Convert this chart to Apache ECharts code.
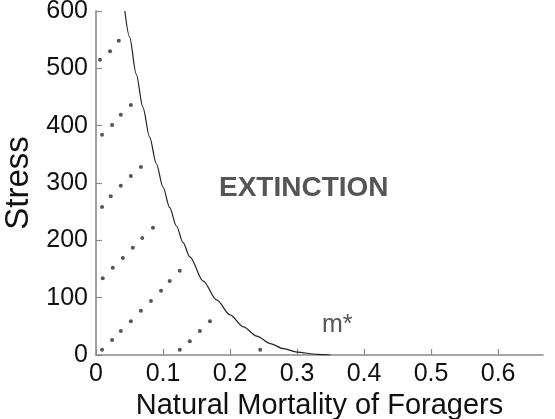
<!DOCTYPE html>
<html>
<head>
<meta charset="utf-8">
<script src="https://cdn.jsdelivr.net/npm/echarts@6/dist/echarts.min.js"></script>
<style>html,body{margin:0;padding:0;background:#fff;}#c{width:555px;height:419px;}</style>
</head>
<body>
<div id="c"></div>
<script>
// Tick labels
var xTicks = [0, 0.1, 0.2, 0.3, 0.4, 0.5, 0.6];
var yTicks = [0, 100, 200, 300, 400, 500, 600];

// Boundary curve (extinction threshold)
var curveX = [0.043, 0.05, 0.06, 0.07, 0.08, 0.09, 0.10, 0.11, 0.12, 0.13, 0.14, 0.16, 0.18, 0.20, 0.22, 0.24, 0.26, 0.28, 0.30, 0.33, 0.35];
var curveY = [600, 555, 490, 432, 380, 334, 293, 257, 225, 196, 171, 129, 96, 70, 49, 33, 20, 11, 5, 1, 0];

// Dotted trajectories
var dots1X = [0.006, 0.021, 0.034];
var dots1Y = [515, 530, 548];
var dots2X = [0.009, 0.024, 0.037, 0.052];
var dots2Y = [384, 401, 419, 436];
var dots3X = [0.009, 0.022, 0.037, 0.052, 0.067];
var dots3Y = [258, 277, 295, 312, 328];
var dots4X = [0.010, 0.025, 0.040, 0.055, 0.069, 0.085];
var dots4Y = [134, 152, 169, 187, 204, 222];
var dots5X = [0.009, 0.024, 0.037, 0.052, 0.067, 0.082, 0.097, 0.110, 0.125];
var dots5Y = [9, 26, 42, 59, 77, 94, 112, 129, 147];
var dots6X = [0.125, 0.140, 0.155, 0.170];
var dots6Y = [9, 24, 42, 59];
var dots7X = [0.245];
var dots7Y = [9];

function zip(a, b) { return a.map(function (v, i) { return [v, b[i]]; }); }

var dotSets = [[dots1X, dots1Y], [dots2X, dots2Y], [dots3X, dots3Y], [dots4X, dots4Y], [dots5X, dots5Y], [dots6X, dots6Y], [dots7X, dots7Y]];

var FONT = '"Liberation Sans", Arial, Helvetica, sans-serif';
var axisCol = '#8a8a8a';

var series = [{
  type: 'line',
  data: zip(curveX, curveY),
  smooth: 0.3,
  smoothMonotone: 'x',
  showSymbol: false,
  symbol: 'none',
  lineStyle: { color: '#222', width: 1.2 },
  silent: true,
  z: 3
}];
dotSets.forEach(function (d) {
  series.push({
    type: 'scatter',
    data: zip(d[0], d[1]),
    symbol: 'circle',
    symbolSize: 4,
    itemStyle: { color: '#2a2a2a' },
    silent: true,
    z: 4
  });
});

var chart = echarts.init(document.getElementById('c'), null, { renderer: 'canvas' });
chart.setOption({
  animation: false,
  backgroundColor: '#fff',
  grid: { left: 96, right: 12, top: 11, bottom: 64, containLabel: false, outerBoundsMode: 'none' },
  xAxis: {
    type: 'value',
    min: 0,
    max: 0.667,
    interval: 0.1,
    name: 'Natural Mortality of Foragers',
    nameLocation: 'middle',
    nameGap: 25,
    nameTextStyle: { fontFamily: FONT, fontSize: 29, color: '#111' },
    axisLine: { show: true, lineStyle: { color: axisCol, width: 1.6 } },
    axisTick: { show: true, inside: true, length: 6, lineStyle: { color: axisCol, width: 1.2 }, customValues: xTicks },
    axisLabel: { fontFamily: FONT, fontSize: 25, color: '#111', margin: 7, customValues: xTicks,
      formatter: function (v) { return String(Math.round(v * 10) / 10); } },
    splitLine: { show: false }
  },
  yAxis: {
    type: 'value',
    min: 0,
    max: 600,
    interval: 100,
    name: 'Stress',
    nameLocation: 'middle',
    nameGap: 61,
    nameTextStyle: { fontFamily: FONT, fontSize: 33, color: '#111' },
    axisLine: { show: true, lineStyle: { color: axisCol, width: 1.6 } },
    axisTick: { show: true, inside: true, length: 6, lineStyle: { color: axisCol, width: 1.2 }, customValues: yTicks },
    axisLabel: { fontFamily: FONT, fontSize: 25, color: '#111', margin: 8, customValues: yTicks },
    splitLine: { show: false }
  },
  graphic: [
    { type: 'text', left: 219, top: 174, style: { text: 'EXTINCTION', font: 'bold 28px ' + FONT, fill: '#555' } },
    { type: 'text', left: 322, top: 313, style: { text: 'm*', font: '25px ' + FONT, fill: '#555' } }
  ],
  series: series
});
</script>
</body>
</html>
